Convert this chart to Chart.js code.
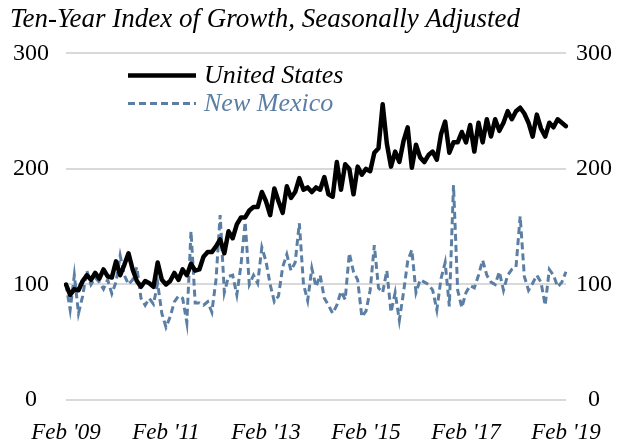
<!DOCTYPE html>
<html>
<head>
<meta charset="utf-8">
<script src="https://cdn.jsdelivr.net/npm/chart.js@4"></script>
<style>
  html, body { margin: 0; padding: 0; background: #fff; }
  #wrap { width: 628px; height: 444px; }
</style>
</head>
<body>
<div id="wrap"><canvas id="growthChart" width="628" height="444"></canvas></div>
<script>
// monthly index, Feb 2009 = 100
const monthNames = ["Jan", "Feb", "Mar", "Apr", "May", "Jun", "Jul", "Aug", "Sep", "Oct", "Nov", "Dec"];
const startYear = 2009;
const startMonth = 1; // Feb
const monthCount = 121;

const tickLabels = ["Feb '09", "Feb '11", "Feb '13", "Feb '15", "Feb '17", "Feb '19"];

const unitedStates = [
  100, 91, 96, 95, 103, 108, 104, 110, 105, 113, 107, 106,
  120, 108, 117, 127, 113, 103, 98, 103, 101, 98, 119, 104,
  100, 103, 110, 104, 113, 108, 118, 112, 113, 124, 128, 128,
  133, 139, 127, 146, 140, 152, 158, 158, 164, 167, 167, 180,
  172, 160, 183, 172, 162, 185, 175, 180, 192, 182, 184, 180,
  184, 182, 193, 178, 176, 206, 182, 204, 200, 178, 202, 195,
  200, 198, 214, 218, 256, 222, 202, 215, 206, 224, 236, 201,
  221, 210, 206, 212, 215, 208, 230, 241, 214, 223, 223, 232,
  223, 238, 215, 240, 223, 243, 228, 243, 233, 240, 250, 243,
  250, 253, 248, 240, 228, 247, 235, 228, 240, 236, 243, 240,
  237
];

const newMexico = [
  100, 78, 108, 75, 90, 112, 100, 106, 102, 96, 104, 92,
  102, 125, 108, 100, 104, 115, 88, 82, 88, 83, 101, 75,
  63, 72, 85, 90, 88, 67, 146, 84, 84, 82, 85, 76,
  104, 160, 93, 107, 108, 91, 117, 154, 100, 108, 101, 132,
  120, 100, 85, 90, 115, 126, 112, 119, 153, 100, 86, 114,
  98, 108, 88, 82, 75, 82, 94, 87, 127, 111, 104, 72,
  77, 95, 134, 97, 93, 112, 76, 93, 69, 93, 120, 130,
  93, 104, 102, 100, 95, 78, 105, 119, 81, 186, 95, 80,
  93, 99, 97, 108, 121, 108, 102, 100, 111, 95, 108, 113,
  115, 159, 107, 95, 101, 108, 102, 82, 113, 108, 98, 102,
  111
];

const months = [];
for (let i = 0; i < monthCount; i++) {
  const m = (startMonth + i) % 12;
  const y = startYear + Math.floor((startMonth + i) / 12);
  months.push(monthNames[m] + " '" + String(y).slice(2));
}

const serif = "'Liberation Serif', 'DejaVu Serif', serif";
const usColor = "#000000";
const nmColor = "#5b7fa4";

// legend drawn inside the plot, top-left
const insideLegend = {
  id: "insideLegend",
  afterDatasetsDraw(chart) {
    const ctx = chart.ctx;
    const area = chart.chartArea;
    const x0 = area.left + 62;
    const rows = [22, 50];
    ctx.save();
    chart.data.datasets.forEach((ds, i) => {
      const y = area.top + rows[i];
      ctx.beginPath();
      ctx.setLineDash(ds.borderDash || []);
      ctx.lineWidth = ds.borderWidth;
      ctx.strokeStyle = ds.borderColor;
      ctx.moveTo(x0, y);
      ctx.lineTo(x0 + 68, y);
      ctx.stroke();
      ctx.setLineDash([]);
      ctx.fillStyle = ds.borderColor;
      ctx.font = "italic 26px " + serif;
      ctx.textBaseline = "middle";
      ctx.textAlign = "left";
      ctx.fillText(ds.label, x0 + 76, y + 1);
    });
    ctx.restore();
  }
};

const yTicks = {
  stepSize: 100,
  crossAlign: "center",
  color: "#000",
  font: { family: serif, size: 24 }
};

new Chart(document.getElementById("growthChart").getContext("2d"), {
  type: "line",
  data: {
    labels: months,
    datasets: [
      {
        label: "United States",
        data: unitedStates,
        borderColor: usColor,
        borderWidth: 4.5,
        borderJoinStyle: "round",
        borderCapStyle: "round",
        pointRadius: 0,
        tension: 0,
        yAxisID: "y"
      },
      {
        label: "New Mexico",
        data: newMexico,
        borderColor: nmColor,
        borderWidth: 3,
        borderDash: [7, 4],
        pointRadius: 0,
        tension: 0,
        yAxisID: "y"
      }
    ]
  },
  options: {
    responsive: false,
    animation: false,
    layout: { padding: { left: 10, right: 0, top: 0, bottom: 0 } },
    plugins: {
      legend: { display: false },
      tooltip: { enabled: false },
      title: {
        display: true,
        text: "Ten-Year Index of Growth, Seasonally Adjusted",
        align: "start",
        color: "#000",
        font: { family: serif, size: 27, style: "italic", weight: "normal" },
        padding: { top: 4, bottom: 17 }
      }
    },
    scales: {
      x: {
        type: "category",
        offset: false,
        grid: { display: false, drawTicks: false },
        border: { display: false },
        ticks: {
          autoSkip: false,
          maxRotation: 0,
          minRotation: 0,
          padding: 19,
          color: "#000",
          font: { family: serif, size: 23, style: "italic" },
          callback: (val, idx) => (idx % 24 === 0 ? tickLabels[idx / 24] : null)
        },
        afterFit: (scale) => { scale.height = 44; }
      },
      y: {
        position: "left",
        min: 0,
        max: 300,
        grid: { color: "#d9d9d9", lineWidth: 2, drawTicks: false },
        border: { display: false },
        ticks: Object.assign({ padding: 17 }, yTicks),
        afterFit: (scale) => { scale.width = 56; }
      },
      y2: {
        position: "right",
        min: 0,
        max: 300,
        grid: { display: false, drawTicks: false },
        border: { display: false },
        ticks: Object.assign({ padding: 10 }, yTicks),
        afterFit: (scale) => { scale.width = 62; }
      }
    }
  },
  plugins: [insideLegend]
});
</script>
</body>
</html>
